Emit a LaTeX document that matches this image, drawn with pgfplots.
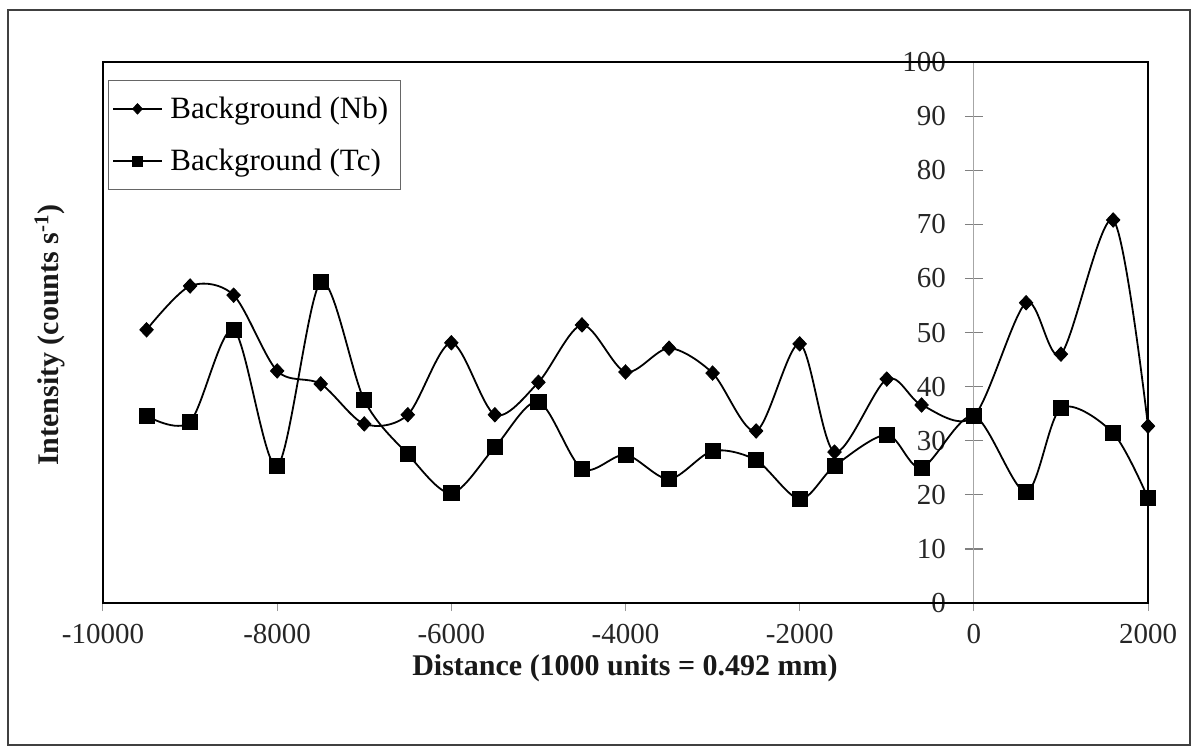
\documentclass[border=0pt]{standalone}
\usepackage{fontspec}
\setmainfont{Liberation Serif}
\usepackage{pgfplots}
\pgfplotsset{compat=1.18}

\begin{document}
\begin{tikzpicture}
\begin{axis}[
  scale only axis, width=522.5pt, height=270.5pt,
  xmin=-10000, xmax=2000, ymin=0, ymax=100,
  axis x line=bottom, axis y line=middle,
  hide obscured x ticks=false, hide obscured y ticks=false,
  x axis line style={-, black, line width=0.9pt},
  y axis line style={-, black!35, line width=0.6pt},
  xtick={-10000,-8000,...,2000}, ytick={0,10,...,100},
  scaled x ticks=false, scaled y ticks=false,
  xtick align=outside, ytick align=center, major tick length=9pt,
  x tick style={black!40, line width=0.5pt, /pgfplots/major tick length=4pt},
  y tick style={black!50, line width=0.6pt},
  tick label style={font=\fontsize{14.5}{17}\selectfont, text=black!85,
    /pgf/number format/assume math mode=true,
    /pgf/number format/set thousands separator={}},
  xticklabel style={yshift=2pt},
  yticklabel style={xshift=-6pt},
  clip=false,
  legend cell align=left,
  legend style={at={(0,1)}, anchor=north west, xshift=2.5pt, yshift=-9pt,
    draw=black!60, line width=0.6pt, fill=white,
    font=\fontsize{15.5}{18}\selectfont,
    inner xsep=2pt, inner ysep=7pt, row sep=12pt,
    nodes={inner xsep=4pt, inner ysep=1pt}},
  legend image code/.code={%
    \draw[mark repeat=2, mark phase=2, mark size=2.6pt] plot coordinates {(0pt,0pt) (12pt,0pt) (24pt,0pt)};},
]
\coordinate (O) at (rel axis cs:0,0);
\draw[black, line width=0.9pt] (rel axis cs:0,0) rectangle (rel axis cs:1,1);

\addplot[black, line width=0.9pt, smooth, tension=0.5,
  mark=diamond*, mark size=3.6pt, mark options={solid, fill=black, line width=0.4pt, xscale=1.25}]
coordinates {
(-9500,50.5) (-9000,58.6) (-8500,56.9) (-8000,42.9) (-7500,40.5) (-7000,33.1)
(-6500,34.8) (-6000,48.1) (-5500,34.8) (-5000,40.8) (-4500,51.4) (-4000,42.7)
(-3500,47.1) (-3000,42.5) (-2500,31.8) (-2000,47.9) (-1600,27.9) (-1000,41.4)
(-600,36.6) (0,34.5) (600,55.5) (1000,46.0) (1600,70.8) (2000,32.7)
};
\addlegendentry{Background (Nb)}

\addplot[black, line width=0.9pt, smooth, tension=0.5,
  mark=square*, mark size=3.8pt, mark options={solid, fill=black, line width=0.4pt}]
coordinates {
(-9500,34.6) (-9000,33.5) (-8500,50.5) (-8000,25.3) (-7500,59.3) (-7000,37.5)
(-6500,27.5) (-6000,20.3) (-5500,28.8) (-5000,37.2) (-4500,24.8) (-4000,27.4)
(-3500,22.9) (-3000,28.1) (-2500,26.4) (-2000,19.2) (-1600,25.3) (-1000,31.1)
(-600,25.0) (0,34.6) (600,20.5) (1000,36.0) (1600,31.4) (2000,19.4)
};
\addlegendentry{Background (Tc)}

\node[font=\bfseries\fontsize{15}{18}\selectfont, text=black!90] at ([shift={(261pt,-32.5pt)}]O) {Distance (1000 units = 0.492 mm)};
\node[font=\bfseries\fontsize{15}{18}\selectfont, text=black!90, rotate=90] at ([shift={(-26.5pt,134pt)}]O) {Intensity (counts s\textsuperscript{-1})};
\end{axis}
\draw[black!75, line width=1pt] ([shift={(-47.5pt,-71pt)}]O) rectangle ([shift={(543.5pt,296.5pt)}]O);
\path ([shift={(-51.5pt,-74.5pt)}]O) rectangle ([shift={(547pt,301.5pt)}]O);
\end{tikzpicture}
\end{document}
